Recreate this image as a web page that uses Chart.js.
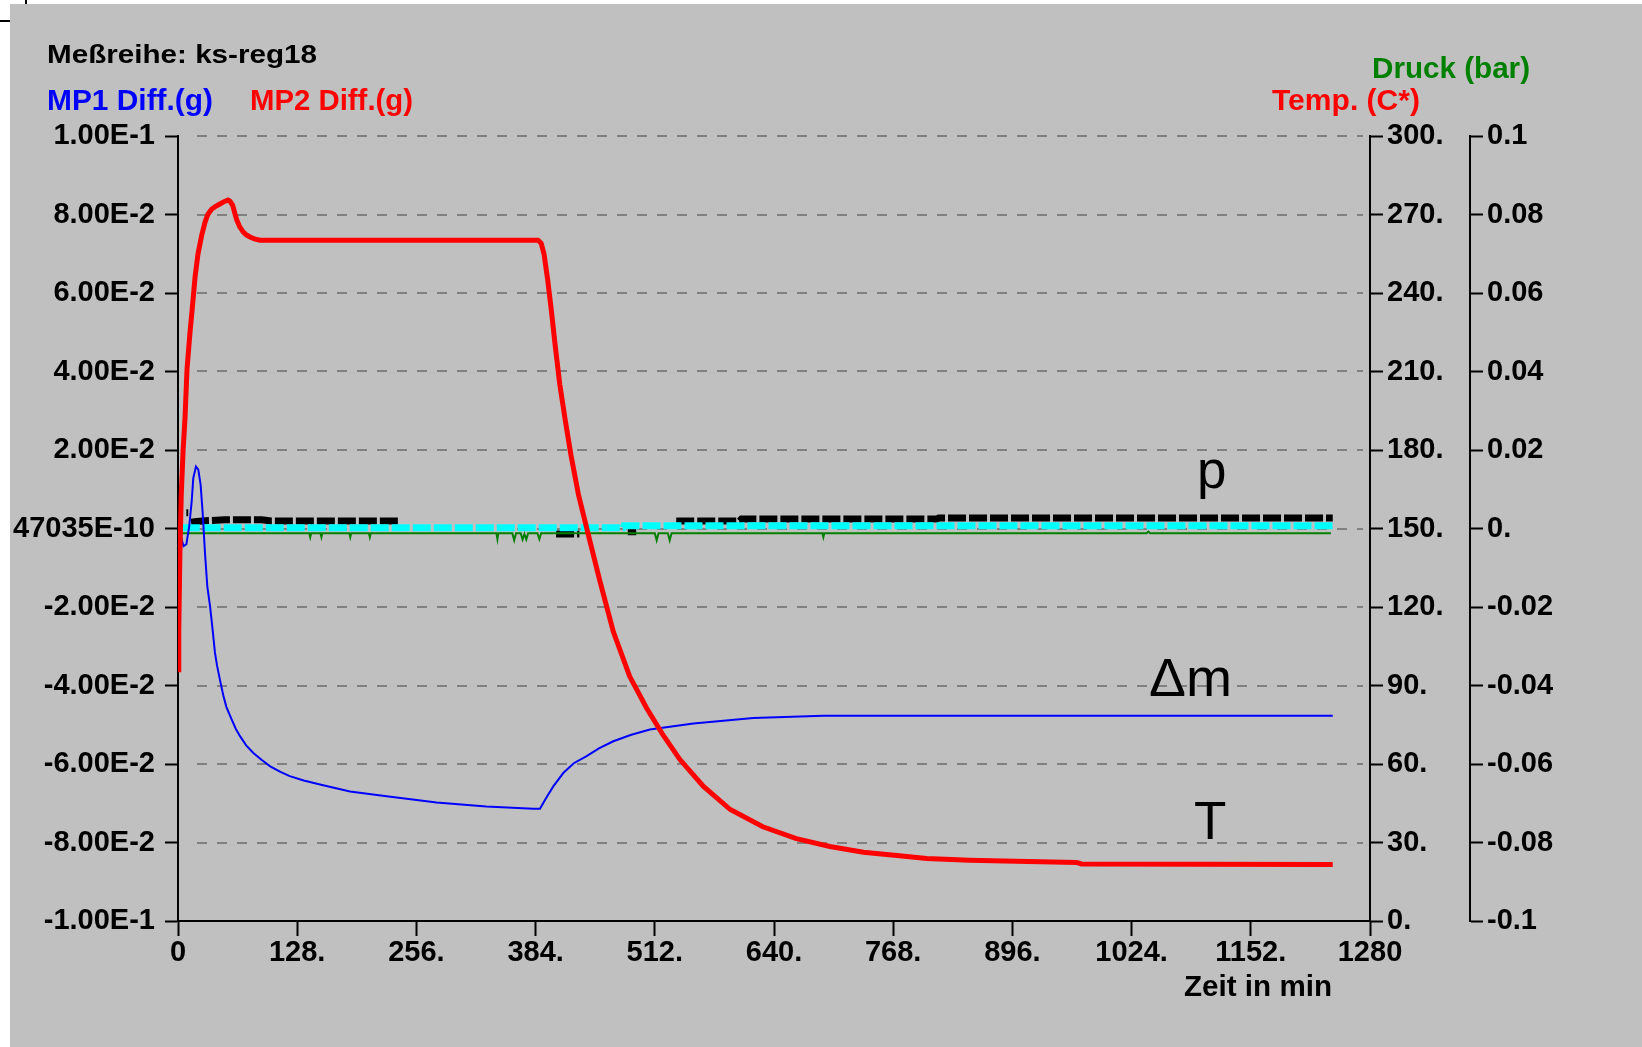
<!DOCTYPE html>
<html>
<head>
<meta charset="utf-8">
<script src="https://cdn.jsdelivr.net/npm/chart.js@4/dist/chart.umd.min.js"></script>
<style>
  html, body { margin: 0; padding: 0; background: #fff; width: 1642px; height: 1047px; overflow: hidden; }
  #frame { position: absolute; left: 10px; top: 4px; width: 1632px; height: 1043px; background: #c0c0c0; }
  .mark { position: absolute; background: #000; }
</style>
</head>
<body>
<div class="mark" style="left:25px;top:0;width:2px;height:4px"></div>
<div class="mark" style="left:0;top:20px;width:10px;height:2px"></div>
<div id="frame"><canvas id="c" width="1632" height="1043"></canvas></div>
<script>
// Axis ticks and their printed labels
const timeTicks = [0, 128, 256, 384, 512, 640, 768, 896, 1024, 1152, 1280];
const timeTickLabels = ['0', '128.', '256.', '384.', '512.', '640.', '768.', '896.', '1024.', '1152.', '1280'];
const massTicks = [-0.1, -0.08, -0.06, -0.04, -0.02, 0, 0.02, 0.04, 0.06, 0.08, 0.1];
const massTickLabels = ['-1.00E-1', '-8.00E-2', '-6.00E-2', '-4.00E-2', '-2.00E-2', '47035E-10',
                        '2.00E-2', '4.00E-2', '6.00E-2', '8.00E-2', '1.00E-1'];
const tempTicks = [0, 30, 60, 90, 120, 150, 180, 210, 240, 270, 300];
const tempTickLabels = ['0.', '30.', '60.', '90.', '120.', '150.', '180.', '210.', '240.', '270.', '300.'];
const pressureTicks = [-0.1, -0.08, -0.06, -0.04, -0.02, 0, 0.02, 0.04, 0.06, 0.08, 0.1];
const pressureTickLabels = ['-0.1', '-0.08', '-0.06', '-0.04', '-0.02', '0.', '0.02', '0.04', '0.06', '0.08', '0.1'];

// Temperature (°C) over time (min)
const temperature = [
  [0, 96], [0.8, 110], [2, 140], [3.5, 163], [5.5, 180], [7.5, 192], [9.7, 211], [12.9, 225],
  [15.8, 236], [18.3, 246], [21.5, 255], [25.4, 262], [29, 267], [32, 270], [36, 272], [40, 273],
  [45, 274], [50, 275], [53.7, 275.5], [56, 275], [58.7, 273.5], [61, 270.5], [63, 268],
  [66, 265.5], [69.8, 263.4], [73, 262.3], [77.3, 261.4], [82, 260.7], [88, 260.2],
  [386.6, 260.2], [390, 259], [393, 255], [397, 245], [401, 233], [405, 220], [410, 205],
  [416, 191], [422, 178], [430, 163], [440, 148.5], [453, 130], [467.5, 110.5], [485, 93.5],
  [503, 81.5], [521, 71], [539, 61.7], [564, 51.5], [593, 42.6], [628, 36], [664, 31.5],
  [700, 28.5], [736, 26.3], [772, 25], [804, 23.9], [850, 23.2], [900, 22.8], [965, 22.4],
  [970, 21.8], [1240, 21.6]
];

// MP1 mass difference (g)
const massDiff1 = [
  [0, 0], [3, -0.002], [6, -0.0045], [9, -0.004], [12, 0.0005], [14.7, 0.0069], [16.4, 0.0128],
  [19.3, 0.0158], [21.8, 0.015], [24.3, 0.0111], [26.5, 0.0039], [29, -0.0063], [31.5, -0.0148],
  [34.4, -0.0198], [37.2, -0.0258], [39.7, -0.0317], [42, -0.035], [45, -0.0385], [48.6, -0.0425],
  [52, -0.0455], [57.7, -0.0487], [62, -0.051], [66.6, -0.0529], [73, -0.0552], [80.9, -0.0572],
  [90, -0.059], [99, -0.0606], [110, -0.062], [120, -0.0631], [135, -0.0642], [152.5, -0.0652],
  [184.7, -0.067], [224, -0.0682], [277.7, -0.0698], [331, -0.0708], [381.5, -0.0714],
  [388.7, -0.0714], [395, -0.0688], [403, -0.0657], [413.7, -0.0623], [425, -0.0598],
  [438.8, -0.058], [452, -0.056], [467.5, -0.0542], [486, -0.0526], [506.7, -0.0512],
  [553.5, -0.0497], [617.8, -0.0483], [692.8, -0.0477], [1240, -0.0477]
];

// MP2 mass difference (g), cyan trace
const massDiff2 = [
  [4, 0.0002], [478, 0.0002], [479, 0.0007], [1240, 0.0007]
];

// Reference trace drawn in black squares (null = hidden behind the cyan trace)
const refTrace = [
  [9, 0.004], [11, 0.004], [12, null], [14, 0.0016], [20, 0.0018], [30, 0.002], [50, 0.0022],
  [90, 0.0022], [100, 0.0019], [238, 0.0019], [239, null], [406, -0.0014], [431, -0.0014],
  [432, null], [483, -0.0008], [492, -0.0008], [493, null], [535, 0.0019], [603, 0.0019],
  [605, 0.0024], [815, 0.0024], [817, 0.0027], [1240, 0.0027]
];

// Pressure (bar)
const pressure = [
  [0, -0.003], [2, -0.0012], [141, -0.0012], [142, -0.0022], [143, -0.0012], [153, -0.0012],
  [154, -0.0022], [155, -0.0012], [184, -0.0012], [185, -0.0022], [186, -0.0012], [205, -0.0012],
  [206, -0.0022], [207, -0.0012], [342, -0.0012], [343, -0.0027], [344, -0.0012], [359, -0.0012],
  [361, -0.003], [363, -0.0012], [368, -0.0012], [370, -0.0028], [372, -0.0014], [374, -0.0028],
  [376, -0.0012], [386, -0.0012], [388, -0.0027], [390, -0.0012], [512, -0.0012], [514, -0.003],
  [516, -0.0012], [526, -0.0012], [528, -0.003], [530, -0.0012], [692, -0.0012], [693, -0.0022],
  [694, -0.0012], [1040, -0.0012], [1042, -0.0008], [1044, -0.0012], [1238, -0.0012]
];

const toXY = arr => arr.map(([x, y]) => ({ x, y }));

const BOLD = 'Liberation Sans';
const tickFont = { family: BOLD, weight: 'bold', size: 29, lineHeight: 1.2 };

function fixedTicks(values) {
  return scale => { scale.ticks = values.map(v => ({ value: v })); };
}

// Dashed horizontal grid across the plot, aligned to the mass axis ticks
const dashedGrid = {
  id: 'dashedGrid',
  beforeDatasetsDraw(chart) {
    const { ctx, chartArea } = chart;
    const ys = chart.scales.yM;
    ctx.save();
    ctx.strokeStyle = '#808080';
    ctx.lineWidth = 2;
    ctx.setLineDash([10, 10]);
    massTicks.forEach(v => {
      if (v === massTicks[0]) return;
      const y = Math.round(ys.getPixelForValue(v));
      ctx.beginPath();
      ctx.moveTo(chartArea.left + 19, y);
      ctx.lineTo(chartArea.right - 7, y);
      ctx.stroke();
    });
    ctx.restore();
  }
};

function drawLabel(ctx, text, x, baseline, font, color, width) {
  ctx.save();
  ctx.font = font;
  ctx.fillStyle = color;
  ctx.textBaseline = 'alphabetic';
  ctx.textAlign = 'left';
  const w = ctx.measureText(text).width;
  ctx.translate(x, baseline);
  if (width) ctx.scale(width / w, 1);
  ctx.fillText(text, 0, 0);
  ctx.restore();
}

// Headings, series captions and curve annotations (canvas offset 10,4)
const captions = {
  id: 'captions',
  afterDraw(chart) {
    const ctx = chart.ctx;
    const b = `bold 29px "${BOLD}"`;
    drawLabel(ctx, 'Meßreihe: ks-reg18', 37, 59, `bold 26px "${BOLD}"`, '#000', 270);
    drawLabel(ctx, 'MP1 Diff.(g)', 37, 106, b, '#0000ff', 166);
    drawLabel(ctx, 'MP2 Diff.(g)', 240, 106, b, '#ff0000', 163);
    drawLabel(ctx, 'Druck (bar)', 1362, 74, b, '#008000', 158);
    drawLabel(ctx, 'Temp. (C*)', 1262, 106, b, '#ff0000', 148);
    drawLabel(ctx, 'Zeit in min', 1174, 992, b, '#000', 148);
    const r = `53px "Liberation Sans"`;
    drawLabel(ctx, 'p', 1187, 484, r, '#000');
    drawLabel(ctx, 'Δm', 1139, 692, r, '#000', 83);
    drawLabel(ctx, 'T', 1184, 835, r, '#000');
  }
};

new Chart(document.getElementById('c'), {
  type: 'line',
  data: {
    datasets: [
      { label: 'Temp. (C*)', data: toXY(temperature), yAxisID: 'yT', borderColor: '#ff0000', borderWidth: 5 },
      { label: 'MP1 Diff.(g)', data: toXY(massDiff1), yAxisID: 'yM', borderColor: '#0000ff', borderWidth: 2 },
      { label: 'Druck (bar)', data: toXY(pressure), yAxisID: 'yP', borderColor: '#008000', borderWidth: 2 },
      { label: 'MP2 Diff.(g)', data: toXY(massDiff2), yAxisID: 'yM', borderColor: '#00ffff', borderWidth: 7, borderDash: [18, 3], borderCapStyle: 'butt' },
      { label: 'p', data: toXY(refTrace), yAxisID: 'yM', borderColor: '#000000', borderWidth: 7, borderDash: [18, 3], borderCapStyle: 'butt', spanGaps: false }
    ]
  },
  options: {
    responsive: false,
    animation: false,
    devicePixelRatio: 1,
    layout: { padding: { top: 132, left: 0, right: 0, bottom: 0 } },
    elements: { point: { radius: 0 }, line: { tension: 0 } },
    plugins: { legend: { display: false }, tooltip: { enabled: false }, title: { display: false } },
    scales: {
      x: {
        type: 'linear', position: 'bottom', min: 0, max: 1280,
        afterBuildTicks: fixedTicks(timeTicks),
        afterFit: s => { s.height = 126; },
        ticks: { callback: (v, i) => timeTickLabels[i], font: tickFont, color: '#000', padding: 0, maxRotation: 0, autoSkip: false },
        grid: { drawOnChartArea: false, drawTicks: true, tickLength: 15, tickColor: '#000', tickWidth: 2 },
        border: { display: true, color: '#000', width: 2 }
      },
      yM: {
        type: 'linear', position: 'left', min: -0.1, max: 0.1,
        afterBuildTicks: fixedTicks(massTicks),
        afterFit: s => { s.width = 168; },
        ticks: { callback: (v, i) => massTickLabels[i], font: tickFont, color: '#000', padding: 10, autoSkip: false },
        grid: { drawOnChartArea: false, drawTicks: true, tickLength: 13, tickColor: '#000', tickWidth: 2 },
        border: { display: true, color: '#000', width: 2 }
      },
      yT: {
        type: 'linear', position: 'right', min: 0, max: 300,
        afterBuildTicks: fixedTicks(tempTicks),
        afterFit: s => { s.width = 100; },
        ticks: { callback: (v, i) => tempTickLabels[i], font: tickFont, color: '#000', padding: 4, autoSkip: false },
        grid: { drawOnChartArea: false, drawTicks: true, tickLength: 13, tickColor: '#000', tickWidth: 2 },
        border: { display: true, color: '#000', width: 2 }
      },
      yP: {
        type: 'linear', position: 'right', min: -0.1, max: 0.1,
        afterBuildTicks: fixedTicks(pressureTicks),
        afterFit: s => { s.width = 172; },
        ticks: { callback: (v, i) => pressureTickLabels[i], font: tickFont, color: '#000', padding: 4, autoSkip: false },
        grid: { drawOnChartArea: false, drawTicks: true, tickLength: 13, tickColor: '#000', tickWidth: 2 },
        border: { display: true, color: '#000', width: 2 }
      }
    }
  },
  plugins: [dashedGrid, captions]
});
</script>
</body>
</html>
